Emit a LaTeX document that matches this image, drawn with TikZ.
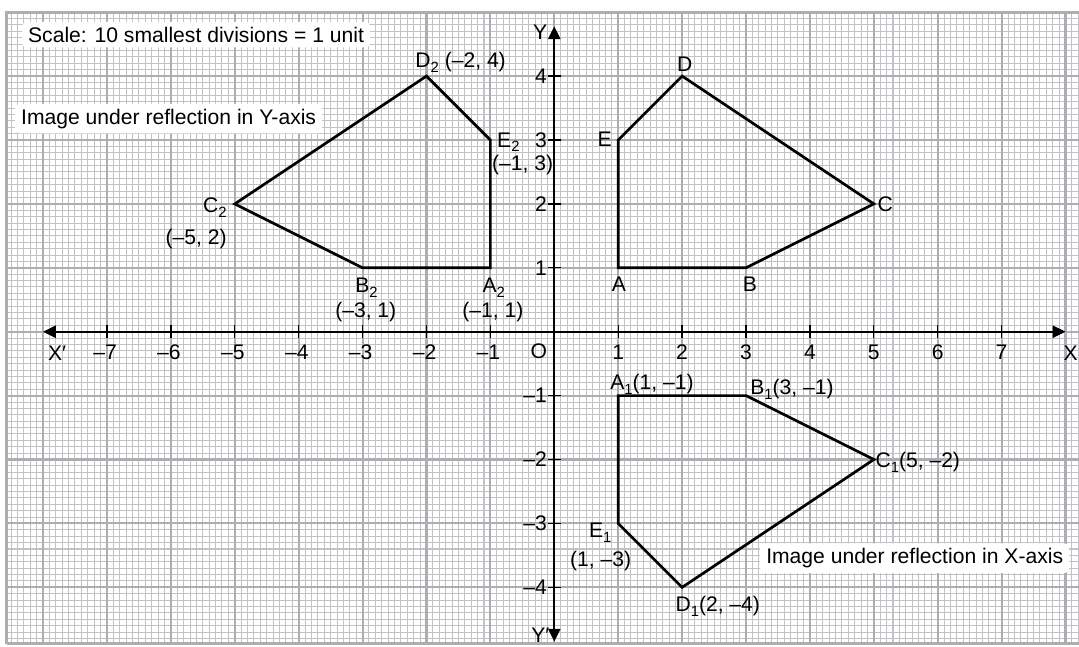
\documentclass[tikz,border=0pt]{standalone}
\usepackage{fontspec}
\setmainfont{Liberation Sans}
\usetikzlibrary{arrows.meta}
\definecolor{gridminor}{HTML}{C2C2C6}
\definecolor{gridmajor}{HTML}{ADADB2}
\newcommand\sbs[1]{\raisebox{-2.2pt}{\fontsize{6.6}{7}\selectfont #1}}
\begin{document}
\begin{tikzpicture}[
  font=\fontsize{9.4}{11}\selectfont,
  minorgrid/.style={draw=gridminor, line width=0.45pt},
  majorgrid/.style={draw=gridmajor, line width=0.95pt},
  borderline/.style={draw=gridmajor, line width=1.2pt},
  axisline/.style={line width=0.85pt, black},
  tickline/.style={line width=0.6pt, black},
  figline/.style={line width=1.2pt, black, line join=miter},
  lbl/.style={inner sep=0pt},
  boxlbl/.style={fill=white, rounded corners=2pt, inner xsep=2.7pt, inner ysep=2.2pt},
  tip/.tip={Triangle[length=0.2cm,width=0.19cm]}
]
\useasboundingbox (-8.674,-4.919) rectangle (8.211,5.191);
\fill[white] (-8.674,-4.919) rectangle (8.211,5.191);
% graph paper
\begin{scope}
  \clip (-8.57,-4.88) rectangle (8.211,5.0);
  \draw[minorgrid, step=0.1] (-8.6,-4.9) grid (8.3,5.0);
  \draw[majorgrid, step=1] (-8.6,-4.9) grid (8.3,5.0);
\end{scope}
\draw[borderline] (-8.57,-4.88) -- (-8.57,5.0) -- (8.211,5.0);
\draw[borderline] (-8.57,-4.88) -- (8.211,-4.88);

% axes
\coordinate (xl) at (-8,0);
\coordinate (xr) at (8,0);
\coordinate (yb) at (0,-4.85);
\coordinate (yt) at (0,4.78);
\draw[axisline, tip-tip] (xl) -- (xr);
\draw[axisline, tip-tip] (yb) -- (yt);
\foreach \i in {1,...,7} {
  \draw[tickline] (\i,-0.1) -- (\i,0.1);
  \draw[tickline] (-\i,-0.1) -- (-\i,0.1);
  \node[lbl, anchor=north] (xp\i) at (\i,-0.2) {\i};
  \node[lbl, anchor=north] (xn\i) at (-\i-0.03,-0.2) {–\i};
}
\foreach \i in {1,...,4} {
  \draw[tickline] (-0.1,\i) -- (0.1,\i);
  \draw[tickline] (-0.1,-\i) -- (0.1,-\i);
  \node[lbl, anchor=east] (yp\i) at (-0.11,\i) {\i};
  \node[lbl, anchor=east] (yn\i) at (-0.11,-\i) {–\i};
}
\node[lbl] (O) at (-0.24,-0.31) {O};
\node[lbl] (Xlab) at (8.08,-0.34) {X};
\node[lbl] (Xplab) at (-7.78,-0.34) {X′};
\node[lbl] (Ylab) at (-0.22,4.69) {Y};
\node[lbl, anchor=base east] (Yplab) at (-0.07,-4.86) {Y′};

% original figure ABCDE
\coordinate (A) at (1,1);
\coordinate (B) at (3,1);
\coordinate (C) at (5,2);
\coordinate (D) at (2,4);
\coordinate (E) at (1,3);
\draw[figline] (A) -- (B) -- (C) -- (D) -- (E) -- cycle;
\node[lbl] (Alab) at (1.01,0.745) {A};
\node[lbl] (Blab) at (3.06,0.745) {B};
\node[lbl] (Clab) at (5.18,2.0) {C};
\node[lbl] (Dlab) at (2.04,4.18) {D};
\node[lbl] (Elab) at (0.79,3.01) {E};

% image in Y-axis
\coordinate (A2) at (-1,1);
\coordinate (B2) at (-3,1);
\coordinate (C2) at (-5,2);
\coordinate (D2) at (-2,4);
\coordinate (E2) at (-1,3);
\draw[figline] (A2) -- (B2) -- (C2) -- (D2) -- (E2) -- cycle;
\node[lbl, anchor=base west] (D2lab) at (-2.18,4.14) {D\sbs{2} (–2, 4)};
\node[lbl, anchor=base west] (E2lab) at (-0.90,2.89) {E\sbs{2}};
\node[lbl, anchor=base west] (E2co) at (-0.98,2.52) {(–1, 3)};
\node[lbl, anchor=base east] (C2lab) at (-5.12,1.87) {C\sbs{2}};
\node[lbl, anchor=base east] (C2co) at (-5.12,1.36) {(–5, 2)};
\node[lbl, anchor=base west] (B2lab) at (-3.12,0.62) {B\sbs{2}};
\node[lbl, anchor=base] (B2co) at (-2.95,0.215) {(–3, 1)};
\node[lbl, anchor=base west] (A2lab) at (-1.13,0.62) {A\sbs{2}};
\node[lbl, anchor=base] (A2co) at (-0.96,0.215) {(–1, 1)};

% image in X-axis
\coordinate (A1) at (1,-1);
\coordinate (B1) at (3,-1);
\coordinate (C1) at (5,-2);
\coordinate (D1) at (2,-4);
\coordinate (E1) at (1,-3);
\draw[figline] (A1) -- (B1) -- (C1) -- (D1) -- (E1) -- cycle;
\node[lbl, anchor=base west] (A1lab) at (0.87,-0.90) {A\sbs{1}(1, –1)};
\node[lbl, anchor=base west] (B1lab) at (3.06,-0.98) {B\sbs{1}(3, –1)};
\node[lbl, anchor=base west] (C1lab) at (5.02,-2.12) {C\sbs{1}(5, –2)};
\node[lbl, anchor=base east] (E1lab) at (0.90,-3.22) {E\sbs{1}};
\node[lbl, anchor=base west] (E1co) at (0.24,-3.67) {(1, –3)};
\node[lbl, anchor=base west] (D1lab) at (1.89,-4.38) {D\sbs{1}(2, –4)};

% captions
\node[boxlbl, anchor=base west] (scale) at (-8.335,4.53)
  {Scale: 10 smallest divisions = 1 unit};
\node[boxlbl, anchor=base west] (capY) at (-8.445,3.25) {Image under reflection in Y-axis};
\node[boxlbl, anchor=base west] (capX) at (3.215,-3.63) {Image under reflection in X-axis};
\end{tikzpicture}
\end{document}
